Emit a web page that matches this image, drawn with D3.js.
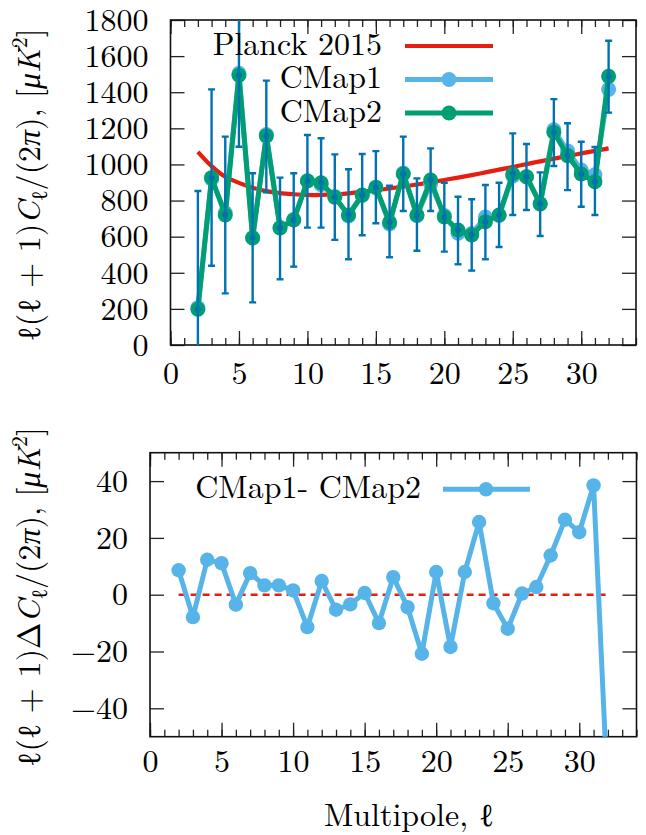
<!DOCTYPE html>
<html>
<head>
<meta charset="utf-8">
<script src="https://cdn.jsdelivr.net/npm/d3@7"></script>
<style>
html, body { margin: 0; padding: 0; background: #fff; }
svg { display: block; }
</style>
</head>
<body>
<svg id="chart" width="646" height="835"></svg>
<script>
// Multipoles and band powers, l(l+1)C_l/(2pi) in uK^2
const multipoles = [2, 3, 4, 5, 6, 7, 8, 9, 10, 11, 12, 13, 14, 15, 16, 17, 18, 19, 20, 21, 22, 23, 24, 25, 26, 27, 28, 29, 30, 31, 32];
const planck2015 = [1070, 991, 932, 898, 871, 852, 841, 835, 831, 831, 834, 840, 848, 857, 867, 878, 889, 901, 914, 927, 941, 956, 971, 986, 1002, 1017, 1032, 1047, 1061, 1075, 1089];
const cmap1 = [207, 919, 732, 1505, 591, 1166, 651, 695, 910, 888, 823, 715, 828, 874, 670, 953, 716, 893, 717, 619, 617, 709, 717, 935, 932, 784, 1192, 1075, 969, 943, 1416];
const cmap2 = [198, 927, 720, 1494, 594, 1158, 648, 692, 908, 899, 818, 720, 831, 873, 680, 947, 720, 914, 709, 637, 609, 683, 720, 947, 932, 781, 1178, 1049, 947, 904, 1488];
const errLow = [-457, 439, 286, 1098, 236, 846, 364, 434, 650, 650, 582, 475, 608, 674, 486, 742, 522, 742, 517, 447, 412, 475, 543, 720, 748, 604, 991, 858, 766, 720, 1287];
const errHigh = [853, 1416, 1154, 1890, 951, 1464, 927, 951, 1163, 1145, 1056, 973, 1058, 1074, 882, 1154, 923, 1089, 899, 821, 807, 886, 899, 1172, 1113, 956, 1362, 1228, 1126, 1097, 1685];
// CMap1 - CMap2
const diffMaps = [8.6, -7.9, 12.3, 11.1, -3.5, 7.6, 3.3, 3.3, 1.5, -11.4, 4.8, -5.3, -3.4, 0.6, -10.0, 6.2, -4.4, -20.8, 8.0, -18.4, 8.0, 25.6, -3.0, -12.0, 0.4, 2.7, 13.8, 26.4, 22.0, 38.5, -72.0];

const xMajorTicks = [0, 5, 10, 15, 20, 25, 30];
const xMinorTicks = [0, 1, 2, 3, 4, 5, 6, 7, 8, 9, 10, 11, 12, 13, 14, 15, 16, 17, 18, 19, 20, 21, 22, 23, 24, 25, 26, 27, 28, 29, 30, 31, 32, 33, 34];
const yTicksTop = [0, 200, 400, 600, 800, 1000, 1200, 1400, 1600, 1800];
const yTicksBottom = [-40, -20, 0, 20, 40];
const legendTop = ["Planck 2015", "CMap1", "CMap2"];
const legendBottom = "CMap1- CMap2";

const RED = "#e51e10", SKY = "#56b4e9", GREEN = "#009e73", BLUE = "#0072b2";
const FONT = '"Latin Modern Roman", "Liberation Serif", serif';
const ELL_FONT = '"Liberation Serif", serif';

const svg = d3.select("#chart");
const defs = svg.append("defs");

// every piece of text goes through here so the font is set inline
function styleText(sel) {
  return sel.style("font-family", FONT).style("font-size", "32px").style("fill", "#000");
}

const xTop = d3.scaleLinear().domain([0, 34]).range([170.5, 636]);
const yTop = d3.scaleLinear().domain([0, 1800]).range([345, 20]);
const xBot = d3.scaleLinear().domain([0, 34]).range([150, 636.5]);
const yBot = d3.scaleLinear().domain([-50, 50]).range([736.7, 452.7]);

function clipFor(id, x, y) {
  defs.append("clipPath").attr("id", id).append("rect")
    .attr("x", x.range()[0]).attr("y", y.range()[1])
    .attr("width", x.range()[1] - x.range()[0])
    .attr("height", y.range()[0] - y.range()[1]);
}
clipFor("clipTop", xTop, yTop);
clipFor("clipBot", xBot, yBot);

function drawFrame(x, y, yTicks, xPad, yPad) {
  const g = svg.append("g");
  const x0 = x.range()[0], x1 = x.range()[1], y0 = y.range()[0], y1 = y.range()[1];
  const tidy = sel => {
    sel.attr("font-family", null).attr("font-size", null);
    sel.select(".domain").remove();
    sel.selectAll(".tick line").attr("stroke", "#222").attr("stroke-width", 1.3);
    sel.selectAll(".tick text").call(styleText);
  };
  g.append("g").attr("transform", `translate(0,${y0})`)
    .call(d3.axisBottom(x).tickValues(xMinorTicks).tickSize(-7).tickFormat(""))
    .call(tidy);
  g.append("g").attr("transform", `translate(0,${y1})`)
    .call(d3.axisTop(x).tickValues(xMinorTicks).tickSize(-7).tickFormat(""))
    .call(tidy);
  g.append("g").attr("transform", `translate(0,${y0})`)
    .call(d3.axisBottom(x).tickValues(xMajorTicks).tickSize(-14).tickPadding(xPad).tickFormat(d3.format("d")))
    .call(tidy);
  g.append("g").attr("transform", `translate(0,${y1})`)
    .call(d3.axisTop(x).tickValues(xMajorTicks).tickSize(-14).tickFormat(""))
    .call(tidy);
  g.append("g").attr("transform", `translate(${x0},0)`)
    .call(d3.axisLeft(y).tickValues(yTicks).tickSize(-14).tickPadding(yPad).tickFormat(d3.format("d")))
    .call(tidy);
  g.append("g").attr("transform", `translate(${x1},0)`)
    .call(d3.axisRight(y).tickValues(yTicks).tickSize(-14).tickFormat(""))
    .call(tidy);
  g.append("rect").attr("x", x0).attr("y", y1).attr("width", x1 - x0).attr("height", y0 - y1)
    .attr("fill", "none").attr("stroke", "#111").attr("stroke-width", 1.6);
}

// Math-style axis title built from tspans; the script ell comes from a font that has it
function mathLabel(cx, cy, parts) {
  const t = svg.append("text")
    .attr("transform", `translate(${cx},${cy}) rotate(-90)`)
    .attr("text-anchor", "middle")
    .call(styleText)
    .style("white-space", "pre");
  parts.forEach(p => {
    const s = t.append("tspan").text(p.t);
    if (p.t === "ℓ") s.style("font-family", ELL_FONT);
    else if (p.it) s.style("font-style", "italic");
    if (p.sub) s.style("font-size", "22px").attr("dy", 7);
    if (p.sup) s.style("font-size", "22px").attr("dy", -13);
    if (p.back) s.attr("dy", p.back);
  });
  return t;
}

/* ---------------- upper panel ---------------- */
drawFrame(xTop, yTop, yTicksTop, 16, 22);

const upper = svg.append("g").attr("clip-path", "url(#clipTop)");

const lineTop = arr => d3.line()
  .x((d, i) => xTop(multipoles[i]))
  .y(d => yTop(d))(arr);

upper.append("path").attr("d", d3.line().curve(d3.curveCatmullRom)
    .x((d, i) => xTop(multipoles[i])).y(d => yTop(d))(planck2015))
  .attr("fill", "none").attr("stroke", RED).attr("stroke-width", 4.2);

upper.append("path").attr("d", lineTop(cmap1))
  .attr("fill", "none").attr("stroke", SKY).attr("stroke-width", 5).attr("stroke-linejoin", "round");
upper.selectAll(".c1").data(cmap1).join("circle")
  .attr("cx", (d, i) => xTop(multipoles[i])).attr("cy", d => yTop(d)).attr("r", 7.5).attr("fill", SKY);

upper.append("path").attr("d", lineTop(cmap2))
  .attr("fill", "none").attr("stroke", GREEN).attr("stroke-width", 5).attr("stroke-linejoin", "round");
upper.selectAll(".c2").data(cmap2).join("circle")
  .attr("cx", (d, i) => xTop(multipoles[i])).attr("cy", d => yTop(d)).attr("r", 7.5).attr("fill", GREEN);

// error bars on CMap2
const eb = upper.append("g").attr("stroke", BLUE).attr("stroke-width", 2.4);
multipoles.forEach((l, i) => {
  const x = xTop(l);
  eb.append("line").attr("x1", x).attr("x2", x).attr("y1", yTop(errLow[i])).attr("y2", yTop(errHigh[i]));
  eb.append("line").attr("x1", x - 3.5).attr("x2", x + 3.5).attr("y1", yTop(errLow[i])).attr("y2", yTop(errLow[i]));
  eb.append("line").attr("x1", x - 3.5).attr("x2", x + 3.5).attr("y1", yTop(errHigh[i])).attr("y2", yTop(errHigh[i]));
});
upper.selectAll(".ebd").data(cmap2).join("circle")
  .attr("cx", (d, i) => xTop(multipoles[i])).attr("cy", d => yTop(d)).attr("r", 3).attr("fill", BLUE);

// legend
const legRows = [
  { label: legendTop[0], color: RED, marker: false, w: 4.2 },
  { label: legendTop[1], color: SKY, marker: true, w: 5 },
  { label: legendTop[2], color: GREEN, marker: true, w: 5 }
];
legRows.forEach((r, i) => {
  const y = 46 + i * 33.5;
  svg.append("text").attr("x", 382).attr("y", y + 8.5).attr("text-anchor", "end").call(styleText).text(r.label);
  svg.append("line").attr("x1", 405).attr("x2", 493).attr("y1", y).attr("y2", y)
    .attr("stroke", r.color).attr("stroke-width", r.w);
  if (r.marker) svg.append("circle").attr("cx", 449).attr("cy", y).attr("r", 7.5).attr("fill", r.color);
});

mathLabel(40, 185, [
  { t: "ℓ", it: 1 }, { t: "(" }, { t: "ℓ", it: 1 }, { t: " + 1)" }, { t: "C", it: 1 },
  { t: "ℓ", it: 1, sub: 1 }, { t: "/(2", back: -7 }, { t: "π", it: 1 }, { t: "), [" },
  { t: "μK", it: 1 }, { t: "2", sup: 1 }, { t: "]", back: 13 }
]);

/* ---------------- lower panel ---------------- */
drawFrame(xBot, yBot, yTicksBottom, 12.5, 22);

const lower = svg.append("g").attr("clip-path", "url(#clipBot)");
lower.append("line")
  .attr("x1", xBot(multipoles[0])).attr("x2", xBot(multipoles[multipoles.length - 1]))
  .attr("y1", yBot(0)).attr("y2", yBot(0))
  .attr("stroke", RED).attr("stroke-width", 2.6).attr("stroke-dasharray", "7,5");
lower.append("path")
  .attr("d", d3.line().x((d, i) => xBot(multipoles[i])).y(d => yBot(d))(diffMaps))
  .attr("fill", "none").attr("stroke", SKY).attr("stroke-width", 5).attr("stroke-linejoin", "round");
lower.selectAll(".cd").data(diffMaps).join("circle")
  .attr("cx", (d, i) => xBot(multipoles[i])).attr("cy", d => yBot(d)).attr("r", 7.2).attr("fill", SKY);

svg.append("text").attr("x", 421).attr("y", 498).attr("text-anchor", "end").call(styleText).text(legendBottom);
svg.append("line").attr("x1", 443).attr("x2", 530).attr("y1", 489.3).attr("y2", 489.3)
  .attr("stroke", SKY).attr("stroke-width", 5);
svg.append("circle").attr("cx", 486).attr("cy", 489.3).attr("r", 7.2).attr("fill", SKY);

mathLabel(40, 597, [
  { t: "ℓ", it: 1 }, { t: "(" }, { t: "ℓ", it: 1 }, { t: " + 1)Δ" }, { t: "C", it: 1 },
  { t: "ℓ", it: 1, sub: 1 }, { t: "/(2", back: -7 }, { t: "π", it: 1 }, { t: "), [" },
  { t: "μK", it: 1 }, { t: "2", sup: 1 }, { t: "]", back: 13 }
]);

// x-axis title
const xt = svg.append("text").attr("x", 409).attr("y", 826).attr("text-anchor", "middle")
  .call(styleText).style("white-space", "pre");
xt.append("tspan").text("Multipole, ");
xt.append("tspan").style("font-family", ELL_FONT).text("ℓ");
</script>
</body>
</html>
